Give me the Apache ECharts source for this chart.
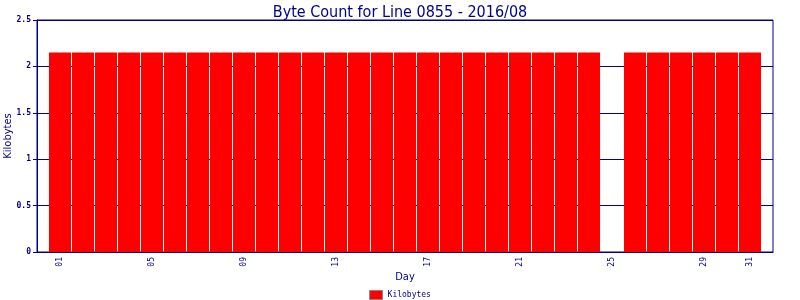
<!DOCTYPE html>
<html><head><meta charset="utf-8">
<script src="https://cdn.jsdelivr.net/npm/echarts@6/dist/echarts.min.js"></script>
<style>html,body{margin:0;padding:0;background:#fff}#c{width:800px;height:300px}</style>
</head><body><div id="c"></div>
<script>
var days = [];
for (var d = 1; d <= 31; d++) days.push(d);
var kilobytes = [2.15,2.15,2.15,2.15,2.15,2.15,2.15,2.15,2.15,2.15,2.15,2.15,2.15,2.15,2.15,2.15,2.15,2.15,2.15,2.15,2.15,2.15,2.15,2.15,null,2.15,2.15,2.15,2.15,2.15,2.15];
var tickDays = [1,5,9,13,17,21,25,29,31];
var tickLabels = ["01","05","09","13","17","21","25","29","31"];

var navy = '#00008B';
var font = 'DejaVu Sans Mono';
var chart = echarts.init(document.getElementById('c'));
chart.setOption({
  animation: false,
  title: { text: 'Byte Count for Line 0855 - 2016/08', left: 'center', top: 0,
    textStyle: { color: navy, fontFamily: 'Liberation Sans Narrow, DejaVu Sans Condensed, sans-serif', fontWeight: 'normal', fontSize: 16 } },
  grid: { left: 37, right: 27, top: 20, bottom: 48, show: true, borderColor: navy, borderWidth: 1,
    backgroundColor: 'transparent', outerBoundsMode: 'none', containLabel: false },
  xAxis: { type: 'value', min: 0, max: 32, interval: 1,
    name: 'Day', nameLocation: 'middle', nameGap: 20, nameMoveOverlap: false,
    nameTextStyle: { color: navy, fontFamily: 'DejaVu Sans Condensed, sans-serif', fontSize: 11 },
    axisLine: { show: true, lineStyle: { color: navy } },
    axisTick: { show: false }, splitLine: { show: false },
    axisLabel: { rotate: 90, color: navy, fontFamily: font, fontSize: 8, margin: 5,
      showMinLabel: true, showMaxLabel: true, hideOverlap: false,
      formatter: function (v) { var i = tickDays.indexOf(v); return i >= 0 ? tickLabels[i] : ''; } } },
  yAxis: { type: 'value', min: 0, max: 2.5, interval: 0.5,
    name: 'Kilobytes', nameLocation: 'middle', nameGap: 23, nameMoveOverlap: false,
    nameTextStyle: { color: navy, fontFamily: 'DejaVu Sans Condensed, sans-serif', fontSize: 11 },
    axisLine: { show: true, lineStyle: { color: navy } },
    axisTick: { show: true, inside: false, length: 4, lineStyle: { color: navy } },
    splitLine: { show: true, lineStyle: { color: navy, width: 1 } },
    axisLabel: { color: navy, fontFamily: font, fontSize: 8, fontWeight: 'bold', margin: 6,
      formatter: function (v) { return String(v); } } },
  legend: { bottom: 0, left: 'center', padding: 0, itemWidth: 13, itemHeight: 9, itemGap: 4, icon: 'rect',
    textStyle: { color: navy, fontFamily: font, fontSize: 8 },
    data: [{ name: 'Kilobytes', itemStyle: { color: '#ff0000', borderColor: '#888', borderWidth: 1 } }] },
  series: [{ name: 'Kilobytes', type: 'bar', barWidth: 22, z: 3,
    itemStyle: { color: '#ff0000' },
    data: days.map(function (d, i) { return [d, kilobytes[i]]; }) }]
});
</script></body></html>
